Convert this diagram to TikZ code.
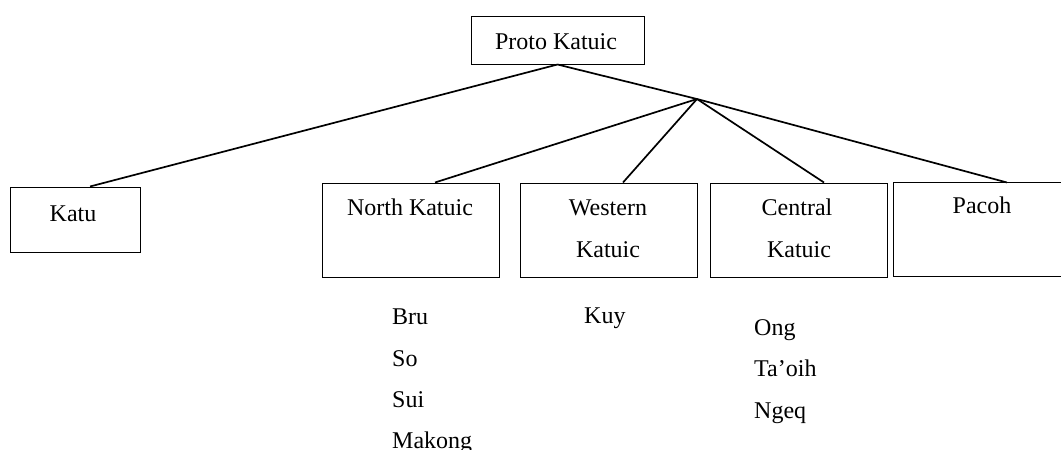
\documentclass[tikz,border=0pt]{standalone}
\usepackage{fontspec}
\setmainfont{Liberation Serif}
\begin{document}
\begin{tikzpicture}[x=1pt,y=-1pt,
  box/.style={draw,line width=1pt,rectangle,inner sep=0pt},
  lbl/.style={anchor=base,inner sep=0pt,font=\fontsize{24}{28}\selectfont},
  item/.style={anchor=base west,inner sep=0pt,font=\fontsize{24}{28}\selectfont},
  conn/.style={line width=1.7pt}]
\clip (0,0) rectangle (1061,450);
% boxes
\node[box,minimum width=173pt,minimum height=48pt] (proto) at (557.5,40) {};
\node[box,minimum width=130pt,minimum height=65pt] (katu) at (75,219.5) {};
\node[box,minimum width=177pt,minimum height=94pt] (north) at (410.5,230) {};
\node[box,minimum width=177pt,minimum height=94pt] (west) at (608.5,230) {};
\node[box,minimum width=177pt,minimum height=94pt] (central) at (798.5,230) {};
\node[box,minimum width=180pt,minimum height=94pt] (pacoh) at (983,229) {};
% box texts
\node[lbl] (tproto) at (556,49) {Proto Katuic};
\node[lbl] (tkatu) at (73,221) {Katu};
\node[lbl] (tnorth) at (410,215) {North Katuic};
\node[lbl] (twest1) at (608,215) {Western};
\node[lbl] (twest2) at (608,257) {Katuic};
\node[lbl] (tcen1) at (797,215) {Central};
\node[lbl] (tcen2) at (799,257) {Katuic};
\node[lbl] (tpacoh) at (982,213) {Pacoh};
% lists
\node[item] (bru) at (392,324) {Bru};
\node[item] (so) at (392,366) {So};
\node[item] (sui) at (392,407) {Sui};
\node[item] (makong) at (392,448) {Makong};
\node[item] (kuy) at (584,323) {Kuy};
\node[item] (ong) at (754,335) {Ong};
\node[item] (taoih) at (754,376) {Ta’oih};
\node[item] (ngeq) at (754,418) {Ngeq};
% connectors
\coordinate (J) at (697,99);
\draw[conn] (proto.south) -- ([xshift=15pt]katu.north);
\draw[conn] (proto.south) -- (J);
\draw[conn] (J) -- ([xshift=24.5pt]north.north);
\draw[conn] (J) -- ([xshift=14.5pt]west.north);
\draw[conn] (J) -- ([xshift=25.5pt]central.north);
\draw[conn] (J) -- ([xshift=24pt,yshift=-1pt]pacoh.north);
\end{tikzpicture}
\end{document}
